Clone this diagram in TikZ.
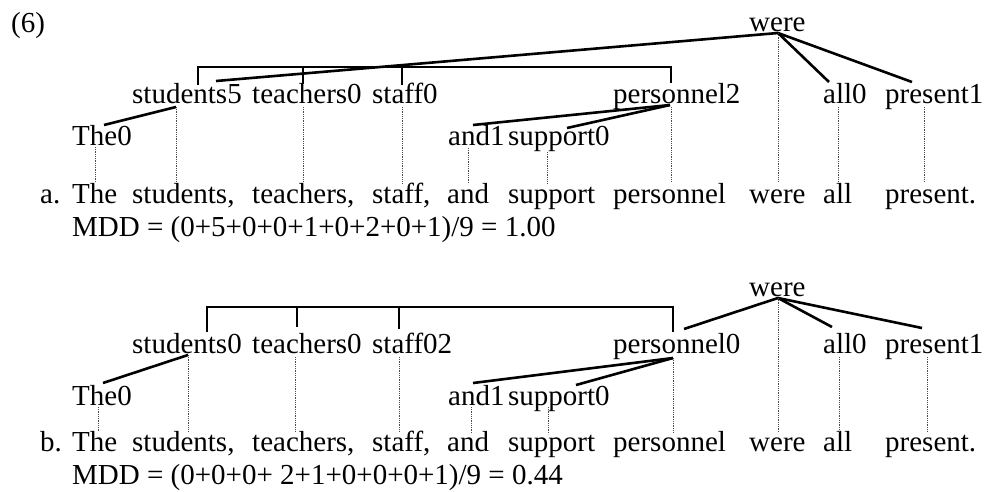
\documentclass[tikz,border=0pt]{standalone}
\usepackage{fontspec}
\setmainfont{Liberation Serif}

\begin{document}
\begin{tikzpicture}[
    x=1pt, y=-1pt,
    word/.style={anchor=base west,inner sep=0pt,font=\fontsize{29}{34}\selectfont},
    dep/.style={line width=2.6pt},
    proj/.style={line width=0.6pt,dash pattern=on 0.9pt off 0.9pt,draw=black!70}
  ]
    \useasboundingbox (0,0) rectangle (987,491);

    % ---- (6a) ----
    \node[word] (num) at (11,32) {(6)};
    \node[word] (aWere) at (749,31) {were};
    \node[word] (aStudents) at (132,103) {students5};
    \node[word] (aTeachers) at (252,103) {teachers0};
    \node[word] (aStaff) at (372,103) {staff0};
    \node[word] (aPersonnel) at (613,103) {personnel2};
    \node[word] (aAll) at (823,103) {all0};
    \node[word] (aPresent) at (885,103) {present1};
    \node[word] (aThe) at (72,145) {The0};
    \node[word] (aAnd) at (448,145) {and1};
    \node[word] (aSupport) at (508,145) {support0};

    \node[word] (aTag) at (40,203) {a.};
    \node[word] (aS1) at (72,203) {The};
    \node[word] (aS2) at (132,203) {students,};
    \node[word] (aS3) at (252,203) {teachers,};
    \node[word] (aS4) at (372,203) {staff,};
    \node[word] (aS5) at (447,203) {and};
    \node[word] (aS6) at (508,203) {support};
    \node[word] (aS7) at (613,203) {personnel};
    \node[word] (aS8) at (749,203) {were};
    \node[word] (aS9) at (823,203) {all};
    \node[word] (aS10) at (885,203) {present.};
    \node[word] (aMdd) at (72,236) {MDD = (0+5+0+0+1+0+2+0+1)/9 = 1.00};

    \coordinate (aWereH) at (778,33);
    \coordinate (aStuTop) at (216,81);
    \coordinate (aAllTop) at (829,82);
    \coordinate (aPreTop) at (912,82);
    \coordinate (aStuK) at (198,85);
    \coordinate (aTeaK) at (303,84);
    \coordinate (aStaK) at (402,85);
    \coordinate (aPerK) at (671,83);
    \coordinate (aStuH) at (176,107);
    \coordinate (aTheTop) at (104,125);
    \coordinate (aPerH) at (670,105);
    \coordinate (aAndTop) at (473,125);
    \coordinate (aSupTop) at (567,128);
    \coordinate (aBot) at (0,182);

    \draw[dep] (aWereH) -- (aStuTop);
    \draw[dep] (aWereH) -- (aAllTop);
    \draw[dep] (aWereH) -- (aPreTop);
    \draw[dep] (aStuK) -- ++(0,-18) -| (aPerK);
    \draw[dep] (aTeaK) -- ++(0,-17);
    \draw[dep] (aStaK) -- ++(0,-18);
    \draw[dep] (aStuH) -- (aTheTop);
    \draw[dep] (aPerH) -- (aAndTop);
    \draw[dep] (aPerH) -- (aSupTop);

    \draw[proj] (95,147) -- (95,182);
    \draw[proj] (aStuH) -- (aStuH |- aBot);
    \draw[proj] (303,107) -- (303,182);
    \draw[proj] (402,107) -- (402,184);
    \draw[proj] (468,148) -- (468,184);
    \draw[proj] (547,152) -- (547,184);
    \draw[proj] (671,107) -- (671,182);
    \draw[proj] (aWereH) -- (aWereH |- aBot);
    \draw[proj] (838,107) -- (838,182);
    \draw[proj] (924,107) -- (924,182);

    % ---- (6b) ----
    \node[word] (bWere) at (749,296) {were};
    \node[word] (bStudents) at (132,353) {students0};
    \node[word] (bTeachers) at (252,353) {teachers0};
    \node[word] (bStaff) at (372,353) {staff02};
    \node[word] (bPersonnel) at (613,353) {personnel0};
    \node[word] (bAll) at (823,353) {all0};
    \node[word] (bPresent) at (885,353) {present1};
    \node[word] (bThe) at (72,405) {The0};
    \node[word] (bAnd) at (448,405) {and1};
    \node[word] (bSupport) at (508,405) {support0};

    \node[word] (bTag) at (40,451) {b.};
    \node[word] (bS1) at (72,451) {The};
    \node[word] (bS2) at (132,451) {students,};
    \node[word] (bS3) at (252,451) {teachers,};
    \node[word] (bS4) at (372,451) {staff,};
    \node[word] (bS5) at (447,451) {and};
    \node[word] (bS6) at (508,451) {support};
    \node[word] (bS7) at (613,451) {personnel};
    \node[word] (bS8) at (749,451) {were};
    \node[word] (bS9) at (823,451) {all};
    \node[word] (bS10) at (885,451) {present.};
    \node[word] (bMdd) at (72,484) {MDD = (0+0+0+ 2+1+0+0+0+1)/9 = 0.44};

    \coordinate (bWereH) at (778,298);
    \coordinate (bPerTop) at (684,329);
    \coordinate (bAllTop) at (832,327);
    \coordinate (bPreTop) at (922,328);
    \coordinate (bStuK) at (207,332);
    \coordinate (bTeaK) at (297,327);
    \coordinate (bStaK) at (399,329);
    \coordinate (bPerK) at (673,332);
    \coordinate (bStuH) at (188,355);
    \coordinate (bTheTop) at (103,383);
    \coordinate (bPerH) at (673,358);
    \coordinate (bAndTop) at (473,383);
    \coordinate (bSupTop) at (576,385);
    \coordinate (bBot) at (0,432);

    \draw[dep] (bWereH) -- (bPerTop);
    \draw[dep] (bWereH) -- (bAllTop);
    \draw[dep] (bWereH) -- (bPreTop);
    \draw[dep] (bStuK) -- ++(0,-25) -| (bPerK);
    \draw[dep] (bTeaK) -- ++(0,-20);
    \draw[dep] (bStaK) -- ++(0,-22);
    \draw[dep] (bStuH) -- (bTheTop);
    \draw[dep] (bPerH) -- (bAndTop);
    \draw[dep] (bPerH) -- (bSupTop);

    \draw[proj] (98,407) -- (98,432);
    \draw[proj] (bStuH) -- (bStuH |- bBot);
    \draw[proj] (295,357) -- (295,432);
    \draw[proj] (399,357) -- (399,432);
    \draw[proj] (471,407) -- (471,434);
    \draw[proj] (548,407) -- (548,434);
    \draw[proj] (bPerH) -- (bPerH |- bBot);
    \draw[proj] (bWereH) -- (bWereH |- bBot);
    \draw[proj] (839,357) -- (839,432);
    \draw[proj] (927,357) -- (927,432);
  \end{tikzpicture}
\end{document}
